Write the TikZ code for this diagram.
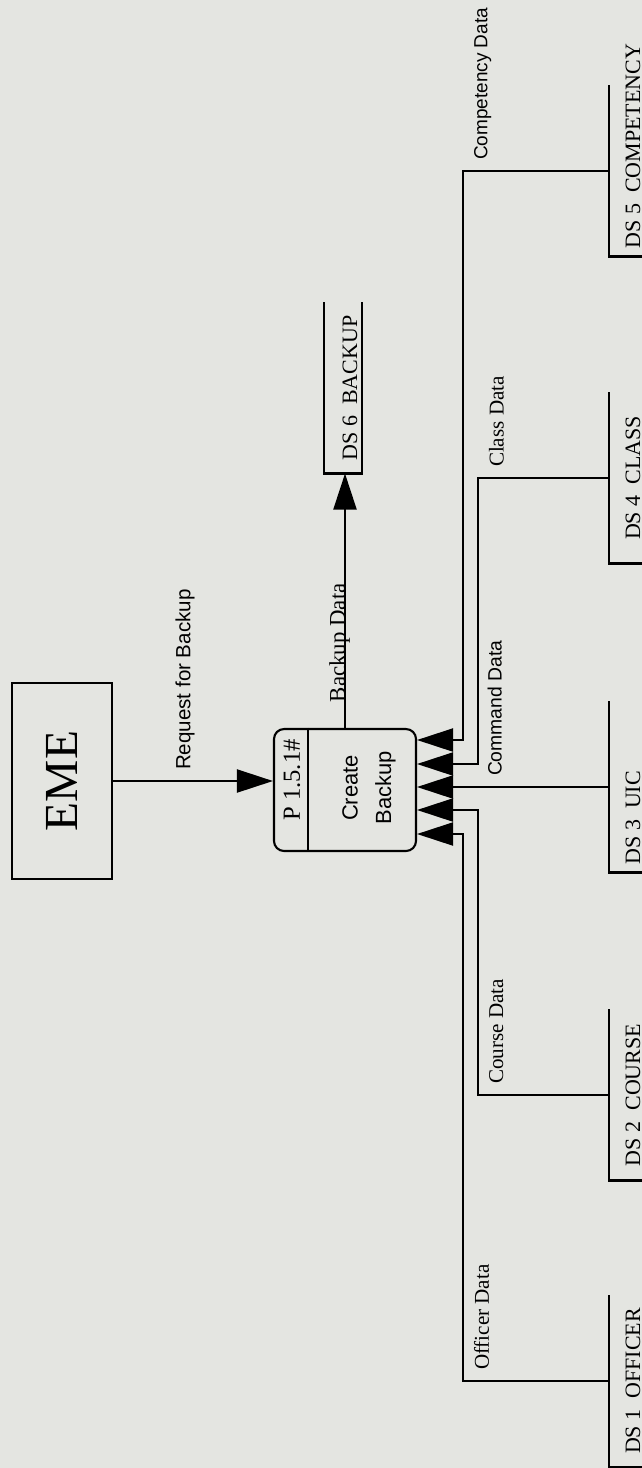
\documentclass[tikz,border=0pt]{standalone}
\usepackage{fontspec}
\setmainfont{Liberation Serif}
\newfontfamily\dfdsans{Liberation Sans}
\usetikzlibrary{arrows.meta, calc}

\definecolor{paper}{RGB}{228,229,225}

\begin{document}
\begin{tikzpicture}[
    x=0.02cm, y=-0.02cm,
    >={Triangle[length=0.72cm, width=0.46cm]},
    line width=1.2pt,
    every node/.style={inner sep=0pt},
    entity/.style={draw, minimum width=2cm, minimum height=3.92cm, font=\fontsize{27}{30}\selectfont},
    process/.style={draw, rounded corners=0.2cm, minimum width=2.84cm, minimum height=2.44cm},
    store/.style={rotate=90, minimum width=3.38cm, minimum height=0.72cm, text height=0.56cm, text depth=0cm, font=\fontsize{12.5}{15}\selectfont},
    edgestore/.style={store, minimum height=0.64cm},
    serifflow/.style={rotate=90, inner sep=0.2cm, font=\fontsize{12}{14}\selectfont},
    sansflow/.style={rotate=90, inner sep=0.2cm, font=\dfdsans\fontsize{#1}{13}\selectfont},
    sansflow/.default=11
  ]

  % Page
  \fill[paper] (0,0) rectangle (642,1468);
  \useasboundingbox (0,0) rectangle (642,1468);
  \clip (0,0) rectangle (642,1468);

  % External entity and process
  \node[entity] (eme) at (62,781) {\rotatebox{90}{EME}};
  \node[process] (p) at (345,790) {};
  \draw ([xshift=0.7cm]p.north west) -- ([xshift=0.7cm]p.south west);
  \node[rotate=90, font=\fontsize{14}{16}\selectfont] (pid) at (292,780) {P 1.5.1\#};
  \node[rotate=90, align=center, font=\dfdsans\fontsize{12.5}{19}\selectfont] (pname) at (369,788) {Create\\Backup};

  % Data stores (the ones on the right run off the page)
  \node[store] (ds6) at (343,388) {DS 6~~BACKUP};
  \draw (ds6.north east) -- (ds6.north west) -- (ds6.south west) -- (ds6.south east);
  \node[edgestore] (ds5) at (626,171) {\makebox[3.1cm][l]{DS 5~~COMPETENCY}};
  \node[edgestore] (ds4) at (626,478) {DS 4~~CLASS};
  \node[edgestore] (ds3) at (626,787) {\makebox[3.1cm][l]{DS 3~~UIC}};
  \node[edgestore] (ds2) at (626,1095) {DS 2~~COURSE};
  \node[edgestore] (ds1) at (626,1381) {DS 1~~OFFICER};
  \foreach \s in {ds1,ds2,ds3,ds4,ds5}
    \draw (\s.north east) -- (\s.north west) -- (\s.south west);

  % Entry points on the right side of the process
  \coordinate (in1) at ($(p.east)+(0,-50)$);
  \coordinate (in2) at ($(p.east)+(0,-26)$);
  \coordinate (in3) at ($(p.east)+(0,-3)$);
  \coordinate (in4) at ($(p.east)+(0,20)$);
  \coordinate (in5) at ($(p.east)+(0,44)$);
  \coordinate (outer) at ($(p.east)+(46,0)$);
  \coordinate (inner) at ($(p.east)+(61,0)$);

  % Flows
  \draw[->] (eme.east) -- (eme.east -| p.west)
    node[sansflow=11.7, pos=0.45, anchor=west] {Request for Backup};
  \draw[->] (p.north) -- (p.north |- ds6.west)
    node[pos=0.335, rotate=90, anchor=base, font=\fontsize{13}{15}\selectfont] {Backup Data};
  \draw[->] (ds5.north) -- (ds5.north -| outer)
    node[sansflow=10.8, anchor=north west] {Competency Data} |- (in1);
  \draw[->] (ds4.north) -- (ds4.north -| inner)
    node[serifflow, anchor=north west] {Class Data} |- (in2);
  \draw[->] (ds3.north) -- (in3)
    node[sansflow, pos=0.69, anchor=north west] {Command Data};
  \draw[->] (ds2.north) -- (ds2.north -| inner)
    node[serifflow, anchor=north west] {Course Data} |- (in4);
  \draw[->] (ds1.north) -- (ds1.north -| outer)
    node[serifflow, anchor=north west] {Officer Data} |- (in5);

\end{tikzpicture}
\end{document}
